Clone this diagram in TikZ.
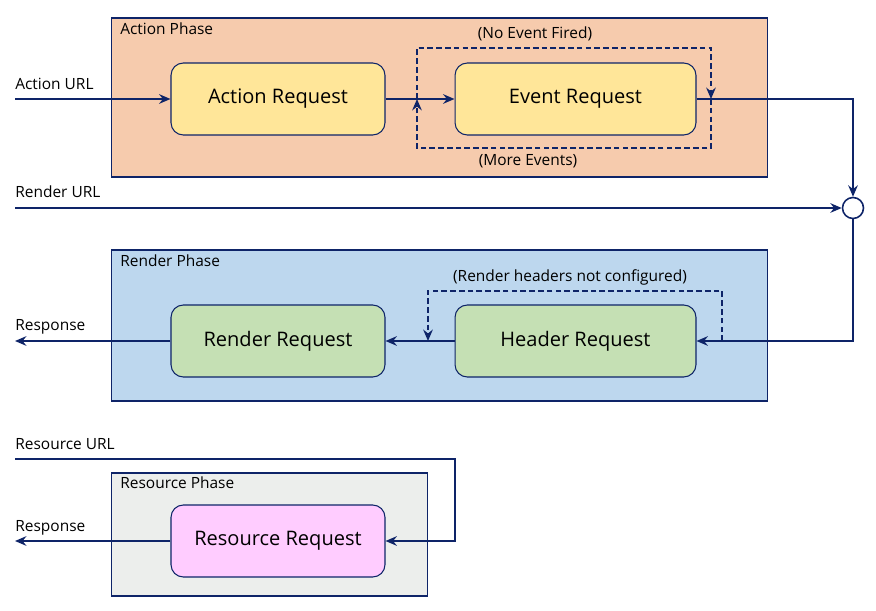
\documentclass[tikz,border=0pt]{standalone}
\usepackage{fontspec}
\setmainfont{Open Sans}
\usetikzlibrary{positioning}
\usetikzlibrary{arrows.meta}
\definecolor{navy}{RGB}{14,36,104}
\definecolor{peach}{RGB}{246,203,173}
\definecolor{skyb}{RGB}{189,215,238}
\definecolor{pale}{RGB}{236,238,236}
\definecolor{yelw}{RGB}{255,230,153}
\definecolor{grn}{RGB}{197,224,180}
\definecolor{pnk}{RGB}{255,204,255}
\tikzset{
    phasebox/.style = {rectangle, draw=navy, line width=0.6pt, anchor=center},
    reqnode/.style = {rectangle, rounded corners=7pt, draw=navy, line width=0.6pt, minimum width=4.28cm, minimum height=1.44cm, align=center, font=\fontsize{11.4}{13}\selectfont, text=black},
    lbl/.style = {font=\fontsize{8.8}{10}\selectfont, text=black, inner sep=0pt},
    edgen/.style = {-,line width=0.9pt,navy},
    edged/.style = {-,line width=0.9pt,navy,dash pattern=on 3.2pt off 1.8pt}, % loops
    tip/.style = {-{Stealth[length=6.5pt,width=5.5pt,inset=2.2pt]}}
}

\begin{document}
\begin{tikzpicture}[x=0.02cm,y=-0.02cm]
\path[use as bounding box,fill=white] (0,0) rectangle (876,611);
%
\node[phasebox,fill=peach,minimum width=13.14cm,minimum height=3.18cm] at (439.5,97.5) (AP) {};
\node[phasebox,fill=skyb,minimum width=13.14cm,minimum height=3.02cm] at (439.5,325.5) (RP) {};
\node[phasebox,fill=pale,minimum width=6.34cm,minimum height=2.46cm] at (269.5,534.5) (SP) {};
\node[lbl,anchor=base west] at (120,35) (APl) {Action Phase};
\node[lbl,anchor=base west] at (120,267) (RPl) {Render Phase};
\node[lbl,anchor=base west] at (120,488) (SPl) {Resource Phase};
%
\node[reqnode,fill=yelw] at (278,99) (ar) {Action Request};
\node[reqnode,fill=yelw,minimum width=4.82cm] at (575.5,99) (er) {Event Request};
\node[reqnode,fill=grn] at (278,341) (rr) {Render Request};
\node[reqnode,fill=grn,minimum width=4.82cm] at (575.5,341) (hr) {Header Request};
\node[reqnode,fill=pnk] at (278,541) (sr) {Resource Request};
\node[circle,draw=navy,line width=0.9pt,fill=white,minimum size=0.42cm,inner sep=0pt] at (853,208) (mg) {};
%
\node[lbl,anchor=base west] at (15,90) (aurll) {Action URL};
\node[lbl,anchor=base west] at (15,198) (rurll) {Render URL};
\node[lbl,anchor=base west] at (15,331) (resp1l) {Response};
\node[lbl,anchor=base west] at (15,449) (surll) {Resource URL};
\node[lbl,anchor=base west] at (15,531) (resp2l) {Response};
\node[lbl] at (535,34) (nef) {(No Event Fired)};
\node[lbl] at (528,161) (mev) {(More Events)};
\node[lbl] at (570,277) (rhn) {(Render headers not configured)};
%
\coordinate (aurl) at (15,99);
\coordinate (rurl) at (15,208);
\coordinate (resp1) at (15,341);
\coordinate (surl) at (15,459);
\coordinate (resp2) at (15,541);
\coordinate (lpL) at (417,99);
\coordinate (lpR) at (711,99);
\coordinate (hdtap) at (722,341);
\coordinate (hdend) at (428,341);
\coordinate (scorner) at (455,541);
%
\draw[edgen,tip] (aurl) -- (ar);
\draw[edgen,tip] (ar) -- (er);
\draw[edgen,tip] (er.east) -| (mg.north);
\draw[edgen,tip] (rurl) -- (mg);
\draw[edgen,tip] (mg.south) |- (hr.east);
\draw[edgen,tip] (hr) -- (rr);
\draw[edgen,tip] (rr) -- (resp1);
\draw[edgen,tip] (surl) -| (scorner) -- (sr.east);
\draw[edgen,tip] (sr) -- (resp2);
%
\draw[edged,tip] (lpL) -- ++(0,-51) -| (lpR);
\draw[edged,tip] (lpR) -- ++(0,49) -| (lpL);
\draw[edged,tip] (hdtap) -- ++(0,-50) -| (hdend);

\end{tikzpicture}
\end{document}
